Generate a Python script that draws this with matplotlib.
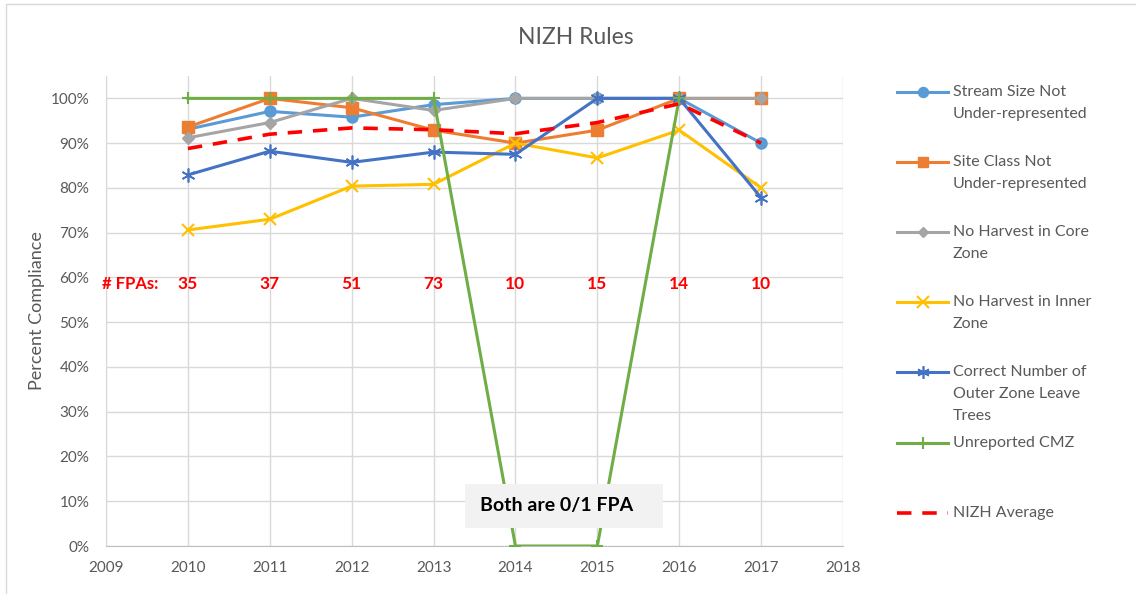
import numpy as np
import matplotlib.pyplot as plt
from matplotlib.lines import Line2D
from matplotlib.patches import Rectangle

plt.rcParams['font.family'] = ['Lato', 'DejaVu Sans']

years = [2010, 2011, 2012, 2013, 2014, 2015, 2016, 2017]
fpa_counts = [35, 37, 51, 73, 10, 15, 14, 10]

stream_size = [93.1, 97.1, 95.8, 98.6, 100, 100, 100, 90]
site_class = [93.6, 100, 97.9, 92.9, 90, 92.9, 100, 100]
core_zone = [91.2, 94.6, 100, 97.3, 100, 100, 100, 100]
inner_zone = [70.6, 73.0, 80.4, 80.8, 90, 86.7, 92.9, 80]
outer_trees = [82.9, 88.2, 85.7, 88.0, 87.5, 100, 100, 77.8]
unreported_cmz = [100, 100, 100, 100, 0, 0, 100, np.nan]
nizh_avg = [88.8, 92.0, 93.4, 93.0, 92.1, 94.6, 98.8, 90.0]

series = [
    ("Stream Size Not\nUnder-represented", stream_size, '#5b9bd5', 'o', 8, 0),
    ("Site Class Not\nUnder-represented", site_class, '#ed7d31', 's', 8, 0),
    ("No Harvest in Core\nZone", core_zone, '#a5a5a5', 'D', 6, 0),
    ("No Harvest in Inner\nZone", inner_zone, '#ffc000', 'x', 9, 1.5),
    ("Correct Number of\nOuter Zone Leave\nTrees", outer_trees, '#4472c4', (6, 2, 0), 10, 1.2),
    ("Unreported CMZ", unreported_cmz, '#70ad47', '+', 9, 1.5),
]

fig = plt.figure(figsize=(11.36, 5.94), dpi=100)
ax = fig.add_axes([106 / 1136, 48 / 594, 737 / 1136, 470 / 594])

text_gray = '#595959'
grid_gray = '#d9d9d9'

for label, vals, color, marker, ms, mew in series:
    ax.plot(years, vals, color=color, lw=2.2, marker=marker, markersize=ms,
            markeredgewidth=mew if mew else 1, markeredgecolor=color,
            markerfacecolor=color, zorder=3)

ax.plot(years, nizh_avg, color='#ff0000', lw=2.6, dashes=(4, 3), zorder=4)

ax.set_xlim(2009, 2018)
ax.set_ylim(0, 105)
ax.set_xticks(range(2009, 2019))
ax.set_yticks(range(0, 101, 10))
ax.set_yticklabels([f"{v}%" for v in range(0, 101, 10)])
ax.grid(True, color=grid_gray, lw=1)
ax.set_axisbelow(True)
for side in ['top', 'right']:
    ax.spines[side].set_visible(False)
ax.spines['left'].set_color(grid_gray)
ax.spines['bottom'].set_color('#bfbfbf')
ax.tick_params(length=0, labelsize=11, colors=text_gray)
ax.tick_params(axis='x', pad=11)
ax.tick_params(axis='y', pad=12)
ax.set_ylabel("Percent Compliance", fontsize=13, color=text_gray, labelpad=4)

# FPA counts row
ax.text(2009.29, 58.5, "# FPAs:", color='#ff0000', fontweight='bold', fontsize=12,
        ha='center', va='center')
for yr, n in zip(years, fpa_counts):
    ax.text(yr, 58.5, str(n), color='#ff0000', fontweight='bold', fontsize=12.5,
            ha='center', va='center')

# note box for 2014/2015
fig.add_artist(Rectangle((465 / 1136, 1 - 528 / 594), 198 / 1136, 44 / 594,
                         transform=fig.transFigure, facecolor='#f2f2f2',
                         edgecolor='none', zorder=5))
fig.text(480 / 1136, 1 - 506 / 594, "Both are 0/1 FPA", fontsize=14, fontweight='bold',
         color='black', ha='left', va='center', zorder=6)

fig.text(576 / 1136, 1 - 38 / 594, "NIZH Rules", fontsize=16.5, color=text_gray,
         ha='center', va='center')

# legend drawn by hand, one text line at a time
entry_y = [92, 162, 232, 302, 372, 443, 513]
for (label, vals, color, marker, ms, mew), y in zip(series, entry_y):
    fy = 1 - y / 594
    fig.add_artist(Line2D([897 / 1136, 948 / 1136], [fy, fy], transform=fig.transFigure,
                          color=color, lw=2.2))
    fig.add_artist(Line2D([922.5 / 1136], [fy], transform=fig.transFigure, color=color,
                          marker=marker, markersize=ms * 0.9, markeredgewidth=mew if mew else 1,
                          markerfacecolor=color, markeredgecolor=color))
    for i, line in enumerate(label.split('\n')):
        fig.text(953 / 1136, 1 - (y + 22 * i) / 594, line, fontsize=11.5, color=text_gray,
                 ha='left', va='center')
fy = 1 - entry_y[-1] / 594
fig.add_artist(Line2D([897 / 1136, 948 / 1136], [fy, fy], transform=fig.transFigure,
                      color='#ff0000', lw=2.6, dashes=(4, 3)))
fig.text(953 / 1136, fy, "NIZH Average", fontsize=11.5, color=text_gray,
         ha='left', va='center')

# chart border
fig.add_artist(Rectangle((6 / 1136, -0.01), 1.1, 1 - 4 / 594 + 0.01, transform=fig.transFigure,
                         facecolor='none', edgecolor='#d9d9d9', lw=1))

fig.savefig('out.png', dpi=100)
